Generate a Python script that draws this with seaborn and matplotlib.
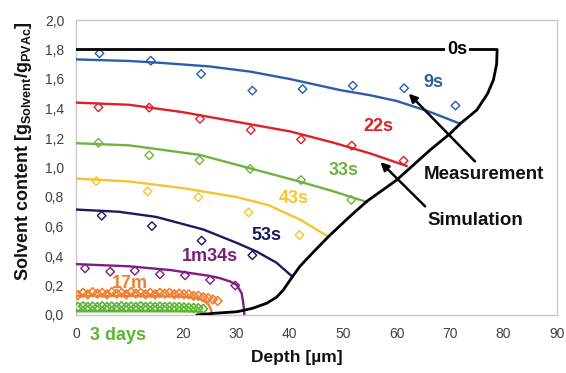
import numpy as np
import pandas as pd
import matplotlib
matplotlib.use("Agg")
import matplotlib.pyplot as plt
import seaborn as sns
from matplotlib.ticker import FuncFormatter

sns.set_style("white")
plt.rcParams['font.family'] = ['Liberation Sans', 'DejaVu Sans']
plt.rcParams['mathtext.fontset'] = 'custom'
plt.rcParams['mathtext.rm'] = 'Liberation Sans:bold'
plt.rcParams['mathtext.it'] = 'Liberation Sans:bold'
plt.rcParams['mathtext.bf'] = 'Liberation Sans:bold'

# ---------------- data ----------------
# boundary / 0s simulation (black)
bound_x = [22.6, 26.0, 30.1, 33.0, 35.7, 37.5, 38.8, 40.5, 41.9, 44.5, 47.2, 51.0, 54.4,
           60.0, 66.3, 70.0, 72.0, 75.0, 77.0, 78.1, 78.7, 78.8, 0.0]
bound_y = [0.0, 0.012, 0.022, 0.045, 0.08, 0.12, 0.17, 0.26, 0.33, 0.43, 0.53, 0.66, 0.77,
           0.915, 1.12, 1.23, 1.30, 1.39, 1.50, 1.593, 1.70, 1.80, 1.80]

# simulations
sim9_x = [0, 10, 15.7, 25, 32.6, 40, 49.4, 55, 60, 66, 71.8]
sim9_y = [1.733, 1.722, 1.71, 1.685, 1.65, 1.60, 1.525, 1.49, 1.451, 1.38, 1.298]
sim22_x = [0, 10, 20, 30, 40, 48, 55, 61.9]
sim22_y = [1.44, 1.425, 1.375, 1.31, 1.245, 1.17, 1.096, 1.01]
sim33_x = [0, 10, 23.2, 32, 41.9, 48, 54.5]
sim33_y = [1.165, 1.15, 1.085, 1.0, 0.904, 0.84, 0.765]
sim43_x = [0, 10, 20, 30, 36, 42, 47.2]
sim43_y = [0.925, 0.905, 0.86, 0.80, 0.745, 0.645, 0.531]
sim53_x = [0, 8, 15, 23.8, 30, 33.8, 37.5, 40.5]
sim53_y = [0.715, 0.70, 0.665, 0.58, 0.49, 0.43, 0.355, 0.26]
sim94_x = [0, 10, 17.6, 25, 27, 29, 30.1, 31.0, 31.3, 31.45, 31.5]
sim94_y = [0.345, 0.33, 0.305, 0.265, 0.249, 0.225, 0.203, 0.147, 0.08, 0.03, 0.0]
sim17m_x = [0, 10, 20, 22.5, 23.8, 24.8, 25.3, 25.4]
sim17m_y = [0.13, 0.13, 0.125, 0.115, 0.1, 0.07, 0.035, 0.0]
sim3d_x = [0, 10, 20, 22.5, 23.6, 24.2, 24.5]
sim3d_y = [0.025, 0.025, 0.025, 0.024, 0.018, 0.008, 0.0]

# measurements
meas9_x = [4.4, 14.0, 23.4, 33.0, 42.4, 51.8, 61.4, 71.0]
meas9_y = [1.774, 1.724, 1.634, 1.521, 1.532, 1.555, 1.537, 1.42]
meas22_x = [4.2, 13.7, 23.2, 32.7, 42.1, 51.6, 61.3]
meas22_y = [1.408, 1.406, 1.33, 1.254, 1.19, 1.148, 1.046]
meas33_x = [4.2, 13.7, 23.1, 32.6, 42.1, 51.5]
meas33_y = [1.168, 1.083, 1.049, 0.99, 0.915, 0.78]
meas43_x = [3.8, 13.4, 22.9, 32.3, 41.8]
meas43_y = [0.908, 0.838, 0.798, 0.696, 0.542]
meas53_x = [4.8, 14.2, 23.5, 33.0]
meas53_y = [0.673, 0.603, 0.504, 0.405]
meas94_x = [1.7, 6.4, 11.0, 15.7, 20.4, 25.1, 29.8]
meas94_y = [0.316, 0.294, 0.30, 0.276, 0.269, 0.238, 0.2]
meas17m_x = [0.4, 1.3, 2.2, 3.1, 4.0, 4.9, 5.8, 6.7, 7.6, 8.5, 9.4, 10.3, 11.2, 12.1, 13.0,
             13.9, 14.8, 15.7, 16.6, 17.5, 18.4, 19.3, 20.2, 21.1, 22.0, 22.9, 23.8, 24.7,
             25.6, 26.5]
meas17m_y = [0.135, 0.15, 0.14, 0.155, 0.145, 0.15, 0.14, 0.155, 0.145, 0.15, 0.14, 0.155,
             0.145, 0.15, 0.14, 0.15, 0.14, 0.15, 0.145, 0.15, 0.14, 0.145, 0.14, 0.14,
             0.13, 0.13, 0.12, 0.115, 0.105, 0.095]
meas3d_x = [0.4, 1.3, 2.2, 3.1, 4.0, 4.9, 5.8, 6.7, 7.6, 8.5, 9.4, 10.3, 11.2, 12.1, 13.0,
            13.9, 14.8, 15.7, 16.6, 17.5, 18.4, 19.3, 20.2, 21.1, 22.0, 22.9, 23.8]
meas3d_y = [0.055, 0.06, 0.055, 0.058, 0.055, 0.06, 0.055, 0.058, 0.055, 0.06, 0.055, 0.058,
            0.055, 0.06, 0.055, 0.058, 0.055, 0.058, 0.055, 0.056, 0.054, 0.055, 0.052,
            0.05, 0.048, 0.046, 0.042]

labels = ["9s", "22s", "33s", "43s", "53s", "1m34s", "17m", "3 days"]
colors = ["#2B5DAA", "#E02027", "#6DB43E", "#F5C431", "#1A1A5E", "#7B1E7F", "#EE8030", "#5CB531"]
label_pos = [(66.9, 1.573), (56.6, 1.275), (50.0, 0.983), (40.7, 0.791),
             (35.7, 0.542), (25.1, 0.395), (10.1, 0.215), (7.9, -0.142)]

x_ticks = [0, 10, 20, 30, 40, 50, 60, 70, 80, 90]
x_ticklabels = ["0", "", "20", "30", "40", "50", "60", "70", "80", "90"]

sims = [(sim9_x, sim9_y), (sim22_x, sim22_y), (sim33_x, sim33_y), (sim43_x, sim43_y),
        (sim53_x, sim53_y), (sim94_x, sim94_y), (sim17m_x, sim17m_y), (sim3d_x, sim3d_y)]
meas = [(meas9_x, meas9_y), (meas22_x, meas22_y), (meas33_x, meas33_y), (meas43_x, meas43_y),
        (meas53_x, meas53_y), (meas94_x, meas94_y), (meas17m_x, meas17m_y), (meas3d_x, meas3d_y)]
msizes = [19, 19, 19, 19, 19, 19, 20, 20]
mwidths = [1.0, 1.0, 1.0, 1.0, 1.0, 1.0, 1.2, 1.2]

# ---------------- figure ----------------
fig = plt.figure(figsize=(5.66, 3.73), dpi=100)
ax = fig.add_axes([76/566, 1-315/373, 481/566, 295/373])

for (sx, sy), (mx, my), c, ms, mw in zip(sims, meas, colors, msizes, mwidths):
    sns.lineplot(x=sx, y=sy, sort=False, color=c, lw=1.7, ax=ax, zorder=3, estimator=None)
    sns.scatterplot(x=mx, y=my, marker='D', s=ms, facecolors='none', edgecolor=c,
                    linewidth=mw, ax=ax, zorder=4)

sns.lineplot(x=bound_x, y=bound_y, sort=False, color='black', lw=2.0, ax=ax, zorder=5,
             estimator=None)

for lab, (lx, ly), c in zip(labels, label_pos, colors):
    kw = {}
    if lab == "3 days":
        kw = dict(clip_on=False)
    ax.text(lx, ly, lab, color=c, fontsize=13, fontweight='bold', ha='center', va='center',
            zorder=6, **kw)

ax.text(71.3, 1.8, "0s", color='black', fontsize=13, fontweight='bold', ha='center',
        va='center', zorder=6,
        bbox=dict(facecolor='white', edgecolor='none', pad=1.5))

ax.annotate("", xy=(61.9, 1.514), xytext=(75.0, 1.028),
            arrowprops=dict(arrowstyle='-|>', color='black', lw=1.8, mutation_scale=12),
            zorder=7)
ax.annotate("", xy=(56.6, 1.05), xytext=(65.7, 0.723),
            arrowprops=dict(arrowstyle='-|>', color='black', lw=1.8, mutation_scale=12),
            zorder=7)
ax.text(76.4, 0.95, "Measurement", fontsize=13.5, fontweight='bold', ha='center', va='center',
        color='#111111', zorder=7)
ax.text(74.8, 0.644, "Simulation", fontsize=13.5, fontweight='bold', ha='center', va='center',
        color='#111111', zorder=7)

ax.set_xlim(0, 90)
ax.set_ylim(0, 2.0)
ax.set_xticks(x_ticks)
ax.set_xticklabels(x_ticklabels)
ax.set_yticks(np.round(np.arange(0, 2.01, 0.2), 1))
ax.yaxis.set_major_formatter(FuncFormatter(lambda v, p: f"{v:.1f}".replace('.', ',')))
ax.tick_params(axis='both', which='major', labelsize=10, labelcolor='#404040', color='#BBBBBB',
               direction='inout', length=5, width=1)
ax.tick_params(axis='y', pad=6)
ax.tick_params(axis='x', pad=6)
for sp in ax.spines.values():
    sp.set_color('#C8C8C8')
    sp.set_linewidth(1.0)
    sp.set_visible(True)

ax.set_xlabel("Depth [µm]", fontsize=12.5, fontweight='bold', color='#111111')
ax.xaxis.set_label_coords(0.46, -0.12)
ax.set_ylabel(r"Solvent content [g$_{\mathrm{Solvent}}$/g$_{\mathrm{PVAc}}$]", fontsize=13,
              fontweight='bold', color='#111111')
ax.yaxis.set_label_coords(-0.088, 0.555)

fig.savefig("out.png", dpi=100)
